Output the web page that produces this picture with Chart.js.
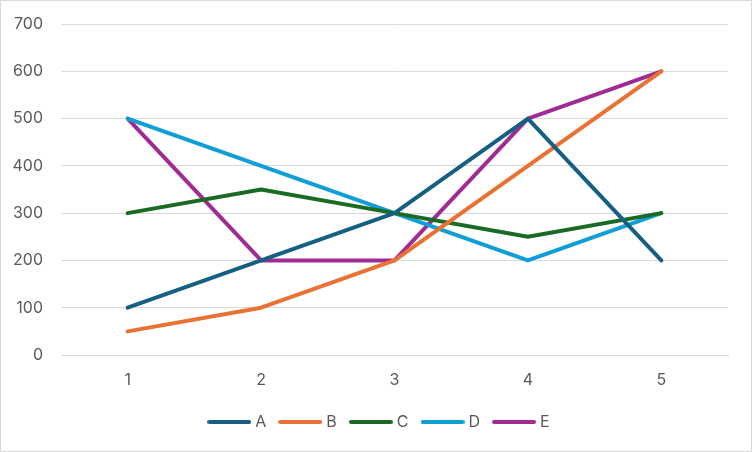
<script src="https://cdn.jsdelivr.net/npm/chart.js"></script>

<style>
  body { margin: 0; background: #fff; }
  #wrap { width: 750px; height: 450px; border: 1px solid #d9d9d9; position: relative; }
</style>

<div id="wrap"><canvas id="myChart"></canvas></div>

<script>
// -- Chart data.
const categories = ['1', '2', '3', '4', '5'];
const series_names = ['A', 'B', 'C', 'D', 'E'];
const values_a = [100, 200, 300, 500, 200];
const values_b = [50, 100, 200, 400, 600];
const values_c = [300, 350, 300, 250, 300];
const values_d = [500, 400, 300, 200, 300];
const values_e = [500, 200, 200, 500, 600];
const colors = ['#156082', '#E97132', '#196B24', '#0F9ED5', '#A02B93'];

const all_values = [values_a, values_b, values_c, values_d, values_e];

// -- Small canvas with a rounded line, used as legend marker.
const make_marker = (color) => {
  const c = document.createElement('canvas');
  c.width = 44;
  c.height = 6;
  const ctx = c.getContext('2d');
  ctx.strokeStyle = color;
  ctx.lineWidth = 4;
  ctx.lineCap = 'round';
  ctx.beginPath();
  ctx.moveTo(2, 3);
  ctx.lineTo(42, 3);
  ctx.stroke();
  return c;
};

// -- Nudge the legend so it sits centred on the whole canvas.
const legend_shift = {
  id: 'legend_shift',
  afterLayout: (chart) => {
    chart.legend.left += 16;
    chart.legend.right += 16;
  },
};

Chart.defaults.font.family = 'Inter, "Liberation Sans", sans-serif';
Chart.defaults.font.size = 16;
Chart.defaults.color = '#595959';

const chart = new Chart(
  document.getElementById('myChart'),
  {
    type: 'line',
    data: {
      labels: categories,
      datasets: series_names.map((name, i) => ({
        label: name,
        data: all_values[i],
        borderColor: colors[i],
        backgroundColor: colors[i],
        borderWidth: 4,
        borderCapStyle: 'round',
        borderJoinStyle: 'round',
        pointRadius: 0,
        tension: 0,
      })),
    },
    plugins: [legend_shift],
    options: {
      responsive: true,
      maintainAspectRatio: false,
      animation: false,
      layout: { padding: { top: 23, right: 23, bottom: 11, left: 0 } },
      scales: {
        x: {
          offset: true,
          grid: { display: false },
          border: { color: '#d9d9d9', width: 1 },
          ticks: { padding: 8 },
          afterFit: (scale) => { scale.height = 43; },
        },
        y: {
          min: 0,
          max: 700,
          ticks: { stepSize: 100, padding: 18 },
          grid: { color: '#d9d9d9', drawTicks: false },
          border: { display: false },
          afterFit: (scale) => {
            scale.width = 60;
            scale.paddingTop = 0;
          },
        },
      },
      plugins: {
        legend: {
          position: 'bottom',
          labels: {
            usePointStyle: true,
            pointStyleWidth: 36,
            padding: 16,
            generateLabels: (chart) => chart.data.datasets.map((ds, i) => ({
              text: ds.label,
              pointStyle: make_marker(ds.borderColor),
              fillStyle: ds.borderColor,
              strokeStyle: ds.borderColor,
              lineWidth: 0,
              fontColor: '#595959',
              datasetIndex: i,
            })),
          },
        },
        tooltip: { enabled: false },
      },
    },
  }
);
</script>
